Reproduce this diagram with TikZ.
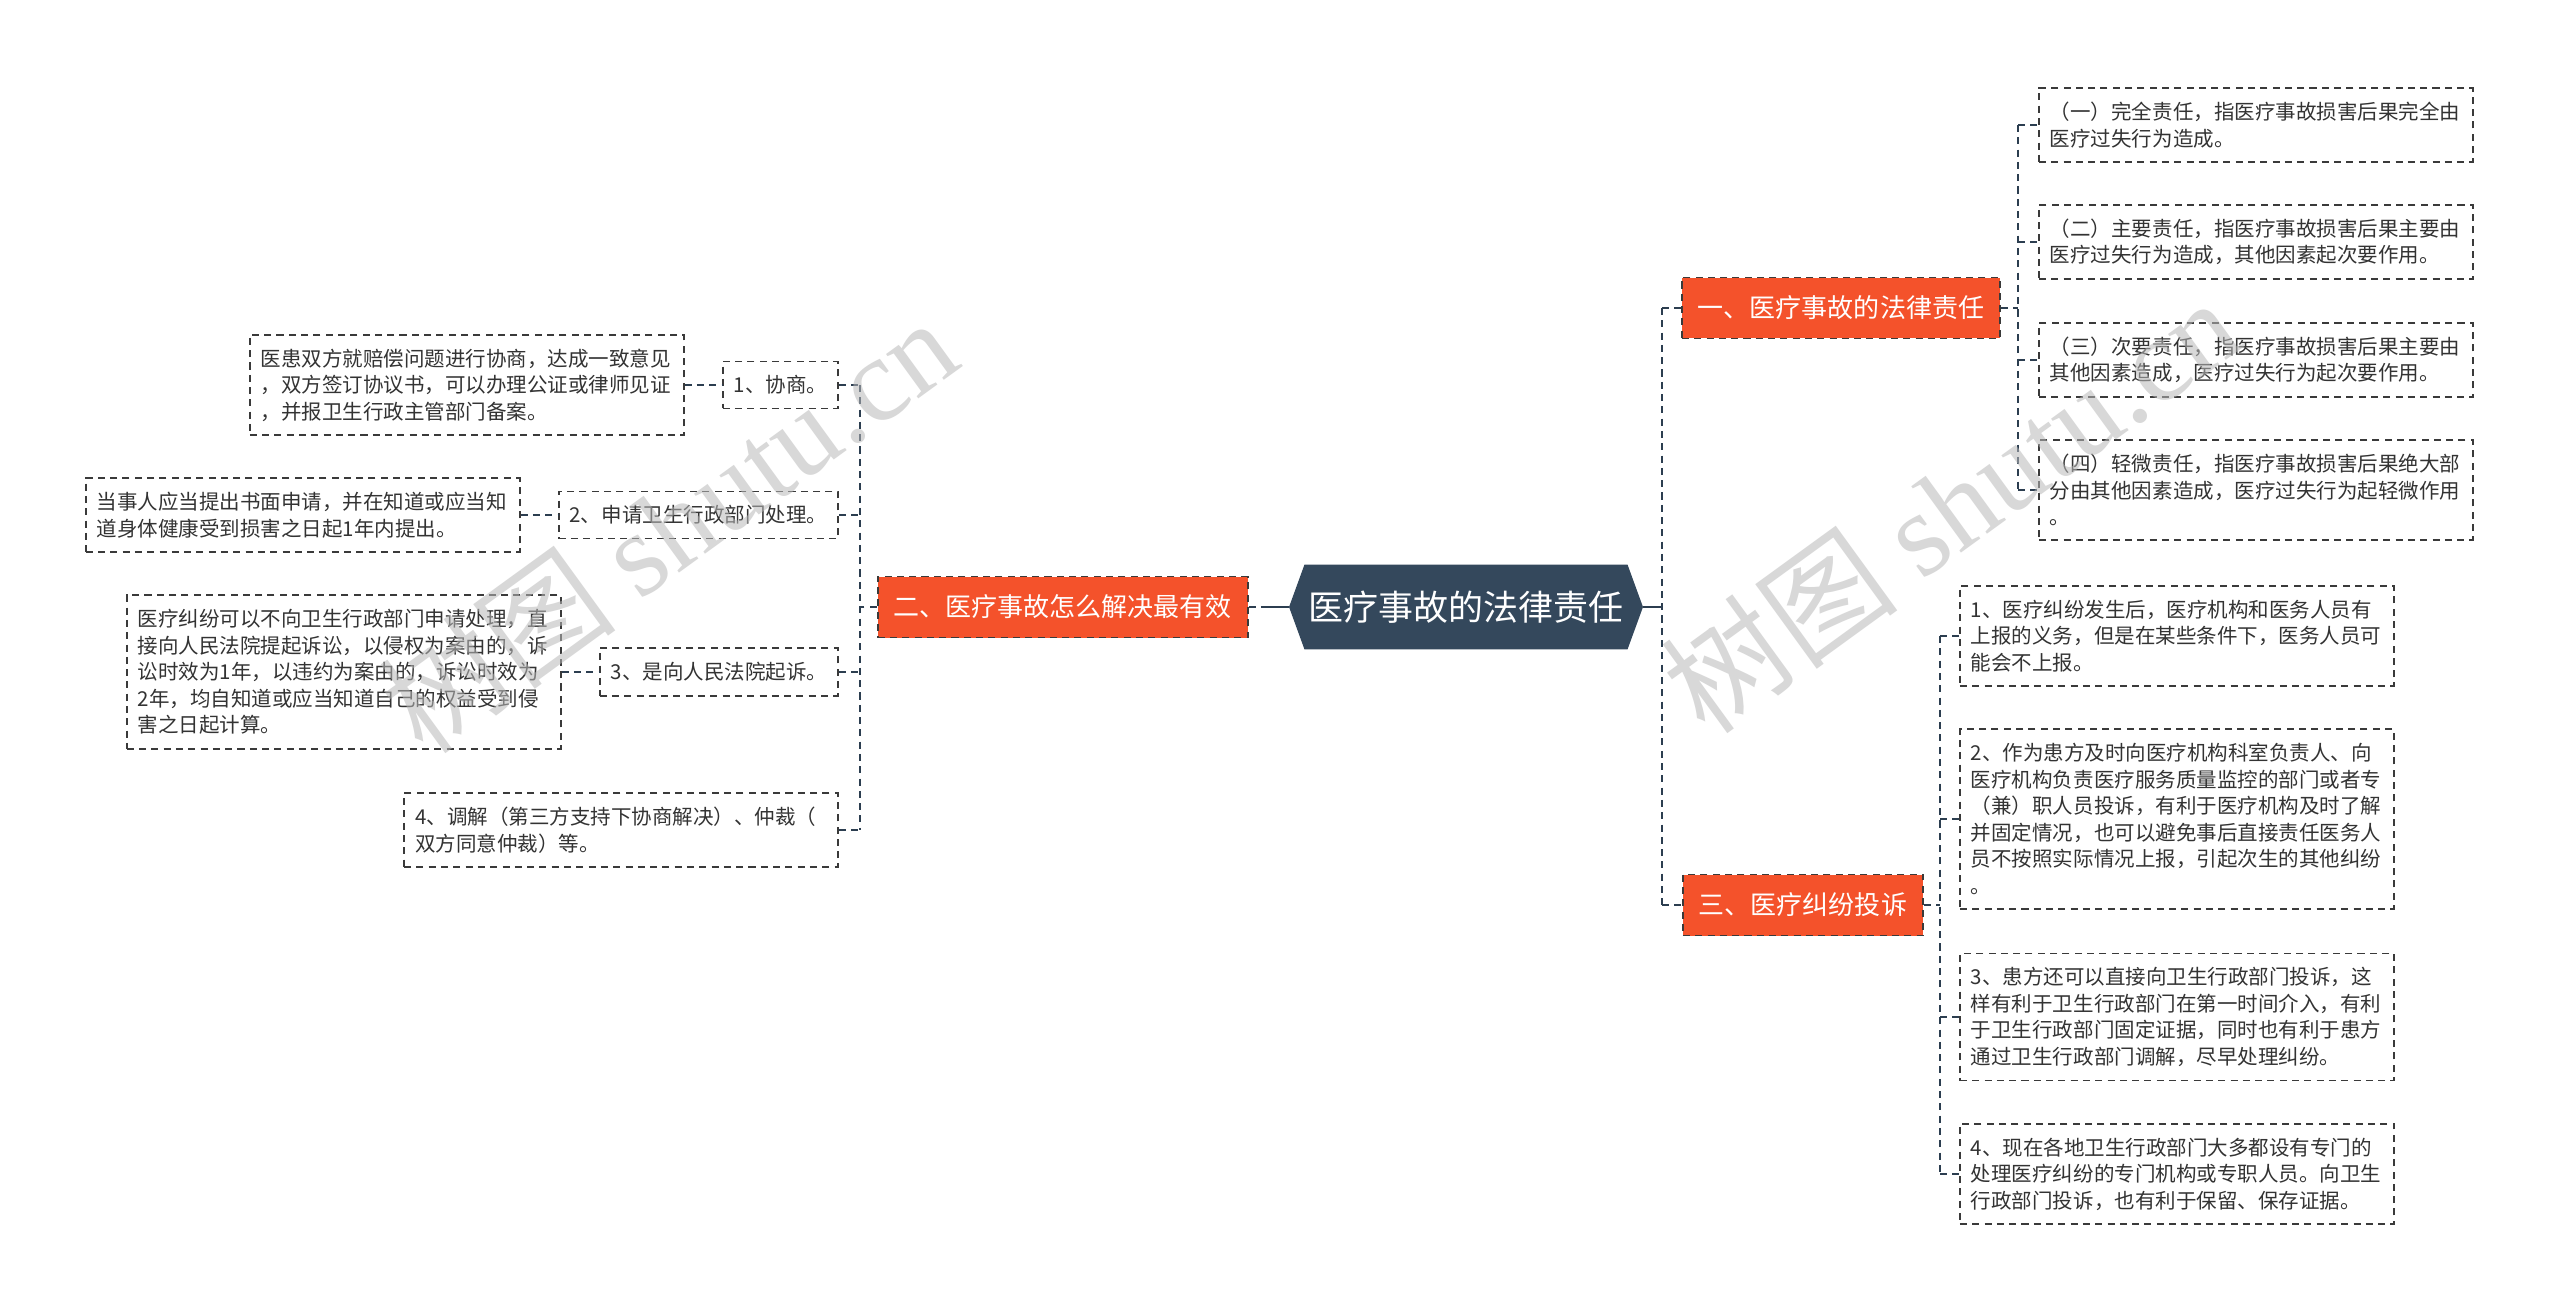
\documentclass[tikz,border=0pt]{standalone}
\usepackage{fontspec}
\setmainfont{Noto Sans CJK SC}
\newfontfamily\wmserif{Liberation Serif}
\usetikzlibrary{positioning,shapes.symbols}
\definecolor{ink}{HTML}{333333}
\definecolor{navy}{HTML}{34485C}
\definecolor{wire}{HTML}{2C3E50}
\definecolor{tomato}{HTML}{F4522B}
\definecolor{edge}{HTML}{3A3A3A}
\definecolor{wmgray}{HTML}{B8B8B8}
\tikzset{
  root/.style={signal,signal to=west and east,signal pointer angle=140,fill=navy,text=white,minimum width=7.08cm,minimum height=1.7cm,inner sep=0pt,font=\fontsize{19.9pt}{24pt}\selectfont},
  topic/.style={draw=edge,line width=1.1pt,dash pattern=on 4pt off 3pt,fill=tomato,text=white,minimum height=1.22cm,inner xsep=0.32cm,inner ysep=0pt,font=\fontsize{14.8pt}{18pt}\selectfont},
  card/.style={draw=edge,line width=1.1pt,dash pattern=on 4pt off 3pt,fill=white,text=ink,align=left,inner xsep=0.22cm,inner ysep=0.28cm,font=\fontsize{11.67pt}{15.08pt}\selectfont},
  leaf/.style={card,text width=8.24cm},
  trunk/.style={draw=wire,line width=1.6pt,dash pattern=on 4pt off 3pt},
  link/.style={draw=wire,line width=1.1pt,dash pattern=on 4pt off 3pt},
  wmark/.style={text=wmgray,text opacity=0.55,inner sep=0pt,font=\fontsize{68pt}{68pt}\selectfont}
}

\begin{document}
\begin{tikzpicture}[x=0.02cm,y=-0.02cm]
  \path[use as bounding box,fill=white] (0,0) rectangle (2560,1315);

  % centre and first level
  \node[root] (root) at (1466,607) {医疗事故的法律责任};
  \node[topic,anchor=west] (n1) at (1681,308) {一、医疗事故的法律责任};
  \node[topic,left=0.8cm of root] (n2) {二、医疗事故怎么解决最有效};
  \node[topic,anchor=west] (n3) at (1682,905) {三、医疗纠纷投诉};

  % 一
  \node[leaf,anchor=west] (r1) at (2038,125) {（一）完全责任，指医疗事故损害后果完全由\\医疗过失行为造成。};
  \node[leaf,anchor=west] (r2) at (2038,242) {（二）主要责任，指医疗事故损害后果主要由\\医疗过失行为造成，其他因素起次要作用。};
  \node[leaf,anchor=west] (r3) at (2038,360) {（三）次要责任，指医疗事故损害后果主要由\\其他因素造成，医疗过失行为起次要作用。};
  \node[leaf,anchor=west] (r4) at (2038,490) {（四）轻微责任，指医疗事故损害后果绝大部\\分由其他因素造成，医疗过失行为起轻微作用\\。};

  % 三
  \node[leaf,anchor=west] (c1) at (1959,636) {1、医疗纠纷发生后，医疗机构和医务人员有\\上报的义务，但是在某些条件下，医务人员可\\能会不上报。};
  \node[leaf,anchor=west] (c2) at (1959,819) {2、作为患方及时向医疗机构科室负责人、向\\医疗机构负责医疗服务质量监控的部门或者专\\（兼）职人员投诉，有利于医疗机构及时了解\\并固定情况，也可以避免事后直接责任医务人\\员不按照实际情况上报，引起次生的其他纠纷\\。};
  \node[leaf,anchor=west] (c3) at (1959,1017) {3、患方还可以直接向卫生行政部门投诉，这\\样有利于卫生行政部门在第一时间介入，有利\\于卫生行政部门固定证据，同时也有利于患方\\通过卫生行政部门调解，尽早处理纠纷。};
  \node[leaf,anchor=west] (c4) at (1959,1174) {4、现在各地卫生行政部门大多都设有专门的\\处理医疗纠纷的专门机构或专职人员。向卫生\\行政部门投诉，也有利于保留、保存证据。};

  % 二
  \node[card,anchor=east] (l1) at (839,385) {1、协商。};
  \node[card,anchor=east] (l2) at (839,515) {2、申请卫生行政部门处理。};
  \node[card,anchor=east] (l3) at (839,672) {3、是向人民法院起诉。};
  \node[leaf,anchor=east] (l4) at (839,830) {4、调解（第三方支持下协商解决）、仲裁（\\双方同意仲裁）等。};
  \node[leaf,left=0.74cm of l1] (l1d) {医患双方就赔偿问题进行协商，达成一致意见\\，双方签订协议书，可以办理公证或律师见证\\，并报卫生行政主管部门备案。};
  \node[leaf,left=0.74cm of l2] (l2d) {当事人应当提出书面申请，并在知道或应当知\\道身体健康受到损害之日起1年内提出。};
  \node[leaf,left=0.74cm of l3] (l3d) {医疗纠纷可以不向卫生行政部门申请处理，直\\接向人民法院提起诉讼，以侵权为案由的，诉\\讼时效为1年，以违约为案由的，诉讼时效为\\2年，均自知道或应当知道自己的权益受到侵\\害之日起计算。};

  % connectors
  \coordinate (bus0) at (1662,0);
  \coordinate (bus1) at (2018,0);
  \coordinate (bus3) at (1940,0);
  \coordinate (bus2) at (860,0);
  \coordinate (rw) at ([xshift=-0.5cm]root.west);
  \draw[trunk] (n2.east) -- (rw);
  \draw[trunk,solid] (rw) -- (root.west);
  \draw[trunk,solid] (root.east) -- (root.east -| bus0);
  \draw[trunk] (n1.west -| bus0) -- (n3.west -| bus0);
  \foreach \t in {n1,n3}
    \draw[trunk] (\t.west -| bus0) -- (\t.west);

  \draw[link] (n1.east) -- (n1.east -| bus1);
  \draw[link] (r1.west -| bus1) -- (r4.west -| bus1);
  \foreach \c in {r1,r2,r3,r4}
    \draw[link] (\c.west -| bus1) -- (\c.west);

  \draw[link] (n3.east) -- (n3.east -| bus3);
  \draw[link] (c1.west -| bus3) -- (c4.west -| bus3);
  \foreach \c in {c1,c2,c3,c4}
    \draw[link] (\c.west -| bus3) -- (\c.west);

  \draw[link] (n2.west) -- (n2.west -| bus2);
  \draw[link] (l1.east -| bus2) -- (l4.east -| bus2);
  \foreach \c in {l1,l2,l3,l4}
    \draw[link] (\c.east) -- (\c.east -| bus2);
  \foreach \c in {l1,l2,l3}
    \draw[link] (\c d.east) -- (\c.west);

  % watermark
  \node[wmark,rotate=36] (wm1) at (668,525) {树图 {\wmserif shutu.cn}};
  \node[wmark,rotate=36] (wm2) at (1950,505) {树图 {\wmserif shutu.cn}};
\end{tikzpicture}
\end{document}
